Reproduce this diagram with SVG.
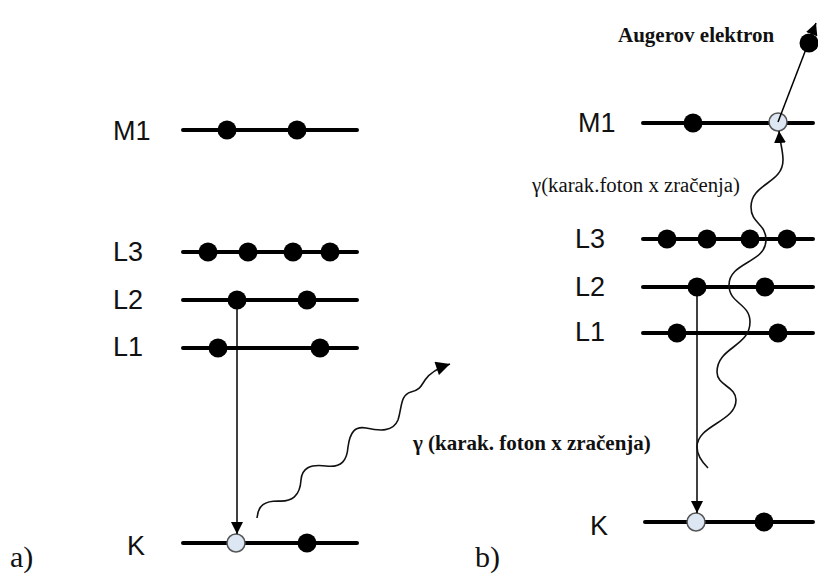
<svg xmlns="http://www.w3.org/2000/svg" width="818" height="574" viewBox="0 0 818 574">
<style>
.lvl{stroke:#000;stroke-width:4;stroke-linecap:round}
.e{fill:#000}
.h{fill:#dde6f3;stroke:#555;stroke-width:1.5}
.lab{font-family:"Liberation Sans",Arial,sans-serif;font-size:27px;fill:#111}
.ser{font-family:"Liberation Serif","Times New Roman",serif;fill:#111}
.con{fill:none;stroke:#000;stroke-width:1.5}
.wav{fill:none;stroke:#111;stroke-width:1.6}
</style>
<defs>
<marker id="ah" markerUnits="userSpaceOnUse" markerWidth="12" markerHeight="12" viewBox="0 0 10 10" refX="10" refY="5" orient="auto">
<path d="M0,0 L10,5 L0,10 z" fill="#000"/>
</marker>
<marker id="ahl" markerUnits="userSpaceOnUse" markerWidth="16" markerHeight="14" viewBox="0 0 10 10" refX="10" refY="5" orient="auto">
<path d="M0,0 L10,5 L0,10 z" fill="#000"/>
</marker>
</defs>
<rect width="818" height="574" fill="#fff"/>

<!-- Panel a -->
<g id="a-M1"><text class="lab" x="113" y="140">M1</text><line class="lvl" x1="183" y1="130" x2="357" y2="130"/><circle class="e" cx="227" cy="130" r="9.5"/><circle class="e" cx="297" cy="130" r="9.5"/></g>
<g id="a-L3"><text class="lab" x="113" y="261">L3</text><line class="lvl" x1="183" y1="252" x2="357" y2="252"/><circle class="e" cx="208" cy="252" r="9.5"/><circle class="e" cx="248" cy="252" r="9.5"/><circle class="e" cx="293" cy="252" r="9.5"/><circle class="e" cx="330" cy="252" r="9.5"/></g>
<g id="a-L2"><text class="lab" x="113" y="309">L2</text><line class="lvl" x1="183" y1="300" x2="357" y2="300"/><circle class="e" cx="237" cy="300" r="9.5"/><circle class="e" cx="307" cy="300" r="9.5"/></g>
<g id="a-L1"><text class="lab" x="113" y="356">L1</text><line class="lvl" x1="183" y1="348" x2="357" y2="348"/><circle class="e" cx="218" cy="348" r="9.5"/><circle class="e" cx="320" cy="348" r="9.5"/></g>
<g id="a-K"><text class="lab" x="127" y="555">K</text><line class="lvl" x1="183" y1="543" x2="357" y2="543"/><circle class="h" cx="236" cy="543" r="9"/><circle class="e" cx="307" cy="543" r="9.5"/></g>
<text class="ser" x="10" y="567" font-size="30">a)</text>
<text class="ser" x="413" y="450" font-size="21" font-weight="bold">γ (karak. foton x zračenja)</text>

<!-- Panel b -->
<g id="b-M1"><text class="lab" x="578" y="132">M1</text><line class="lvl" x1="643" y1="123" x2="813" y2="123"/><circle class="e" cx="693" cy="123" r="9.5"/><circle class="h" cx="778" cy="122" r="9"/></g>
<g id="b-L3"><text class="lab" x="575" y="248">L3</text><line class="lvl" x1="643" y1="239" x2="813" y2="239"/><circle class="e" cx="667" cy="239" r="9.5"/><circle class="e" cx="707" cy="239" r="9.5"/><circle class="e" cx="750" cy="239" r="9.5"/><circle class="e" cx="787" cy="239" r="9.5"/></g>
<g id="b-L2"><text class="lab" x="575" y="296">L2</text><line class="lvl" x1="643" y1="287" x2="813" y2="287"/><circle class="e" cx="697" cy="287" r="9.5"/><circle class="e" cx="765" cy="287" r="9.5"/></g>
<g id="b-L1"><text class="lab" x="575" y="341">L1</text><line class="lvl" x1="643" y1="333" x2="813" y2="333"/><circle class="e" cx="677" cy="333" r="9.5"/><circle class="e" cx="778" cy="333" r="9.5"/></g>
<g id="b-K"><text class="lab" x="590" y="535">K</text><line class="lvl" x1="645" y1="522" x2="813" y2="522"/><circle class="h" cx="696" cy="522" r="9"/><circle class="e" cx="764" cy="522" r="9.5"/></g>
<text class="ser" x="475" y="567" font-size="30">b)</text>
<text class="ser" x="618" y="42" font-size="21" font-weight="bold">Augerov elektron</text>
<text class="ser" x="532" y="192" font-size="20" textLength="208" lengthAdjust="spacingAndGlyphs">γ(karak.foton x zračenja)</text>

<g id="connectors">
<line class="con" x1="237" y1="300" x2="237" y2="534" marker-end="url(#ah)"/>
<path class="wav" d="M257,518 C258,505 265,501 278,501 C292,502 300,496 301,480 C302,468 310,464 326,466 C342,468 347,460 348,447 C350,432 355,426 366,428 C380,431 393,432 398,420 C402,408 400,395 411,392 C420,390 421,386 425,380 C429,374 438,368 450,364" marker-end="url(#ahl)"/>
<line class="con" x1="697" y1="287" x2="697" y2="513" marker-end="url(#ah)"/>
<path class="wav" d="M708,468 C702,462 697,455 697,447 C697,425 736,422 736,400 C736,386 717,386 717,372 C717,347 750,347 750,322 C750,303 729,304 729,285 C729,262 766,263 766,240 C766,223 751,224 751,207 C751,183 783,184 783,160 C783,150 780,143 779,131" marker-end="url(#ah)"/>
<line class="con" x1="778" y1="122" x2="816" y2="23" marker-end="url(#ah)"/>
<circle class="e" cx="809" cy="43" r="9.5"/>
</g>
</svg>
